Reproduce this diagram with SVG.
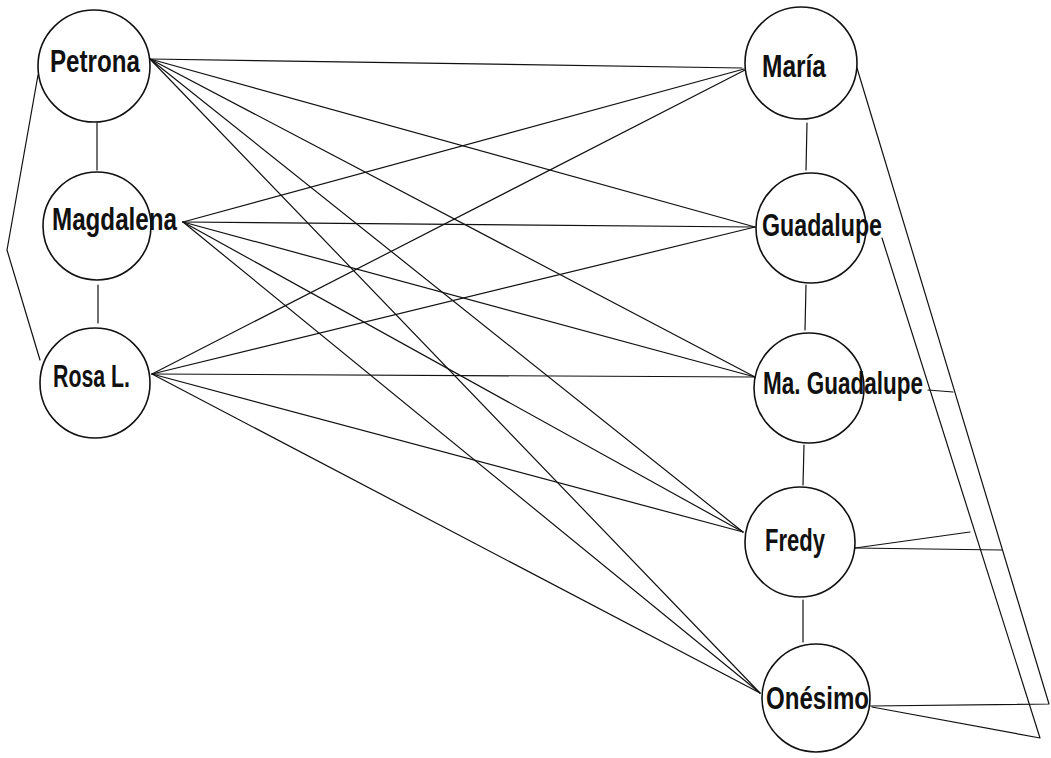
<svg xmlns="http://www.w3.org/2000/svg" width="1051" height="758" viewBox="0 0 1051 758">
  <style>
    .node circle { fill: none; stroke: #111; stroke-width: 1.6; }
    .node text { font-family: "Liberation Sans", Arial, sans-serif; font-weight: bold; font-size: 31px; fill: #111; }
    .edges line, .edges polyline { stroke: #111; stroke-width: 1.2; fill: none; stroke-linecap: round; stroke-linejoin: round; }
  </style>
  <rect width="1051" height="758" fill="#fff"/>

  <!-- connectors -->
  <g id="connectors" class="edges">
    <!-- left column chain -->
    <line x1="97" y1="123" x2="97" y2="170"/>
    <line x1="98" y1="285" x2="98" y2="323"/>
    <polyline points="38,75 7,250 40,360"/>
    <!-- right column chain -->
    <line x1="807" y1="123" x2="806" y2="170"/>
    <line x1="806" y1="285" x2="805" y2="330"/>
    <line x1="804" y1="445" x2="803" y2="485"/>
    <line x1="803" y1="600" x2="803" y2="642"/>
    <!-- Petrona -->
    <line x1="150" y1="59" x2="742" y2="68"/>
    <line x1="150" y1="59" x2="755" y2="227"/>
    <line x1="150" y1="59" x2="755" y2="377"/>
    <line x1="150" y1="59" x2="743" y2="532"/>
    <line x1="150" y1="59" x2="760" y2="693"/>
    <!-- Magdalena -->
    <line x1="183" y1="222" x2="744" y2="69"/>
    <line x1="183" y1="222" x2="755" y2="227"/>
    <line x1="183" y1="222" x2="755" y2="377"/>
    <line x1="183" y1="222" x2="743" y2="532"/>
    <line x1="183" y1="222" x2="760" y2="693"/>
    <!-- Rosa L. -->
    <line x1="152" y1="374" x2="745" y2="70"/>
    <line x1="152" y1="374" x2="755" y2="227"/>
    <line x1="152" y1="374" x2="755" y2="377"/>
    <line x1="152" y1="374" x2="743" y2="532"/>
    <line x1="152" y1="374" x2="760" y2="693"/>
    <!-- outer right routing -->
    <polyline points="857,68 1049,704 870,706"/>
    <polyline points="882,238 1040,738 872,707"/>
    <line x1="928" y1="390" x2="953" y2="392"/>
    <line x1="855" y1="548" x2="970" y2="532"/>
    <line x1="855" y1="548" x2="1002" y2="550"/>
  </g>

  <!-- left column -->
  <g id="petrona" class="node">
    <circle cx="94" cy="66" r="56"/>
    <text x="50" y="72" textLength="90" lengthAdjust="spacingAndGlyphs">Petrona</text>
  </g>
  <g id="magdalena" class="node">
    <circle cx="97" cy="226" r="54"/>
    <text x="52" y="230" textLength="125" lengthAdjust="spacingAndGlyphs">Magdalena</text>
  </g>
  <g id="rosa" class="node">
    <circle cx="95" cy="383" r="55"/>
    <text x="53" y="387" textLength="77" lengthAdjust="spacingAndGlyphs">Rosa L.</text>
  </g>

  <!-- right column -->
  <g id="maria" class="node">
    <circle cx="801" cy="63" r="56"/>
    <text x="762" y="77" textLength="64" lengthAdjust="spacingAndGlyphs">María</text>
  </g>
  <g id="guadalupe" class="node">
    <circle cx="811" cy="228" r="55"/>
    <text x="762" y="236" textLength="120" lengthAdjust="spacingAndGlyphs">Guadalupe</text>
  </g>
  <g id="ma-guadalupe" class="node">
    <circle cx="809" cy="388" r="55"/>
    <text x="763" y="394" textLength="160" lengthAdjust="spacingAndGlyphs">Ma. Guadalupe</text>
  </g>
  <g id="fredy" class="node">
    <circle cx="800" cy="542" r="55"/>
    <text x="765" y="551" textLength="60" lengthAdjust="spacingAndGlyphs">Fredy</text>
  </g>
  <g id="onesimo" class="node">
    <circle cx="816" cy="698" r="54"/>
    <text x="766" y="709" textLength="103" lengthAdjust="spacingAndGlyphs">Onésimo</text>
  </g>
</svg>
